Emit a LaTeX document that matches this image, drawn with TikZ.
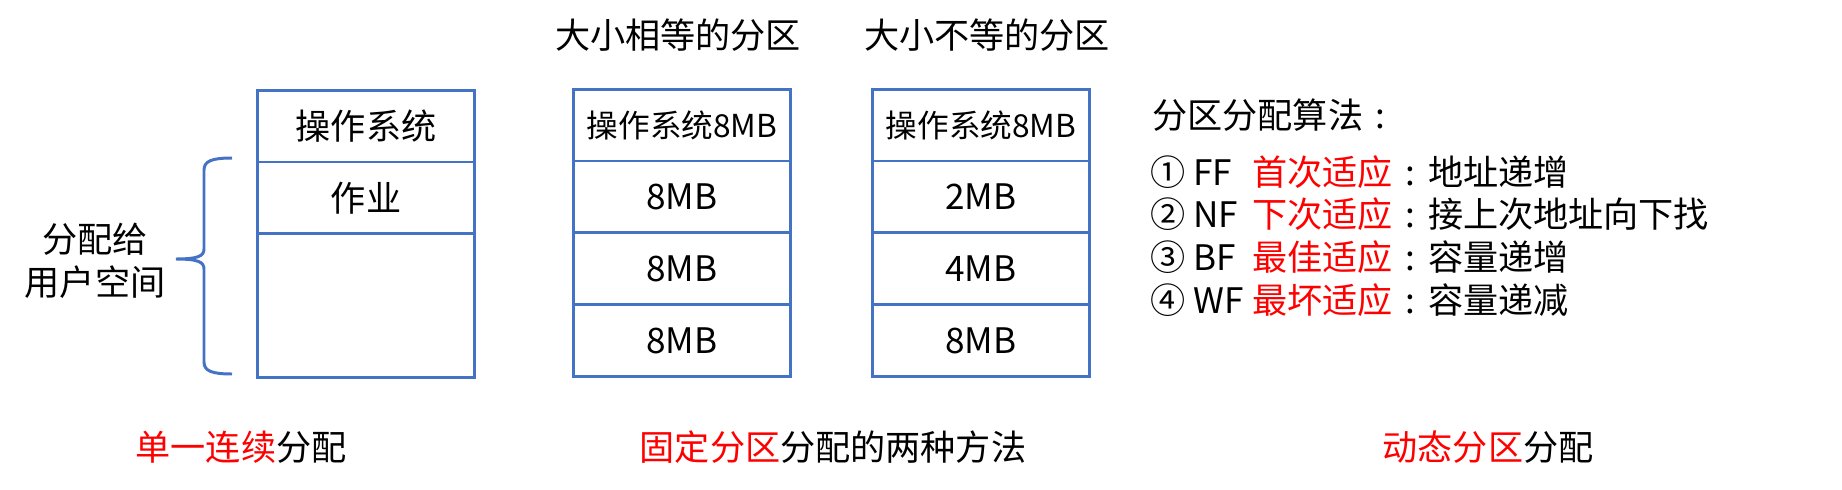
\documentclass[tikz,border=0pt]{standalone}
\usepackage{fontspec}
\setmainfont{Noto Sans CJK SC}
\usetikzlibrary{positioning}
\definecolor{boxblue}{RGB}{68,114,196}
\def\wcolon{\makebox[1em][c]{:}}
\def\algline#1#2#3{\makebox[2.04cm][l]{#1}\textcolor{red}{#2}\wcolon#3}

\tikzset{
	cell/.style={draw=boxblue, line width=1.7pt, outer sep=0pt, inner sep=0pt,
		minimum width=4.36cm, minimum height=1.44cm, font=\fontsize{20}{24}\selectfont},
	hdcell/.style={cell, font=\fontsize{18}{22}\selectfont},
	txt/.style={inner sep=0pt, font=\fontsize{20}{24.5}\selectfont},
}

\begin{document}
\begin{tikzpicture}[x=0.02cm, y=-0.02cm]
		%%%%% START %%%%%
		\useasboundingbox (0, 0) rectangle (1842, 490);
		
		% single contiguous allocation
		\node[cell] (os1) at (366, 126) {操作系统};
		\node[cell, below=0pt of os1] (job1) {作业};
		\node[cell, minimum height=2.88cm, below=0pt of job1] (free1) {};
		
		\draw[boxblue, line width=1.7pt] (232, 158) .. controls (212, 158) and (204, 161) .. (204, 170)
			-- (204, 249) .. controls (204, 256) and (198, 259) .. (176, 259)
			.. controls (198, 259) and (204, 262) .. (204, 269)
			-- (204, 362) .. controls (204, 371) and (212, 374) .. (232, 374);
		\node[txt, align=center] (user1) at (95, 261) {分配给\\用户空间};
		
		% fixed partitions, equal sizes
		\node[txt] (eqtitle) at (678, 35) {大小相等的分区};
		\node[hdcell] (os2) at (682, 125) {操作系统8MB};
		\node[cell, below=0pt of os2] (eqa) {8MB};
		\node[cell, below=0pt of eqa] (eqb) {8MB};
		\node[cell, below=0pt of eqb] (eqc) {8MB};
		
		% fixed partitions, unequal sizes
		\node[txt] (neqtitle) at (987, 35) {大小不等的分区};
		\node[hdcell] (os3) at (981, 125) {操作系统8MB};
		\node[cell, below=0pt of os3] (neqa) {2MB};
		\node[cell, below=0pt of neqa] (neqb) {4MB};
		\node[cell, below=0pt of neqb] (neqc) {8MB};
		
		% dynamic partition algorithms
		\node[txt, anchor=west] (algtitle) at (1152, 115) {分区分配算法\wcolon};
		\node[txt, anchor=west] (ff) at (1150, 172) {\algline{① FF}{首次适应}{地址递增}};
		\node[txt, anchor=west] (nf) at (1150, 214) {\algline{② NF}{下次适应}{接上次地址向下找}};
		\node[txt, anchor=west] (bf) at (1150, 257) {\algline{③ BF}{最佳适应}{容量递增}};
		\node[txt, anchor=west] (wf) at (1150, 300) {\algline{④ WF}{最坏适应}{容量递减}};
		
		% captions
		\node[txt] (single) at (241, 447) {\textcolor{red}{单一连续}分配};
		\node[txt] (fixed) at (833, 447) {\textcolor{red}{固定分区}分配的两种方法};
		\node[txt] (dynamic) at (1488, 447) {\textcolor{red}{动态分区}分配};
		
		%%%%% END %%%%%
\end{tikzpicture}
\end{document}
